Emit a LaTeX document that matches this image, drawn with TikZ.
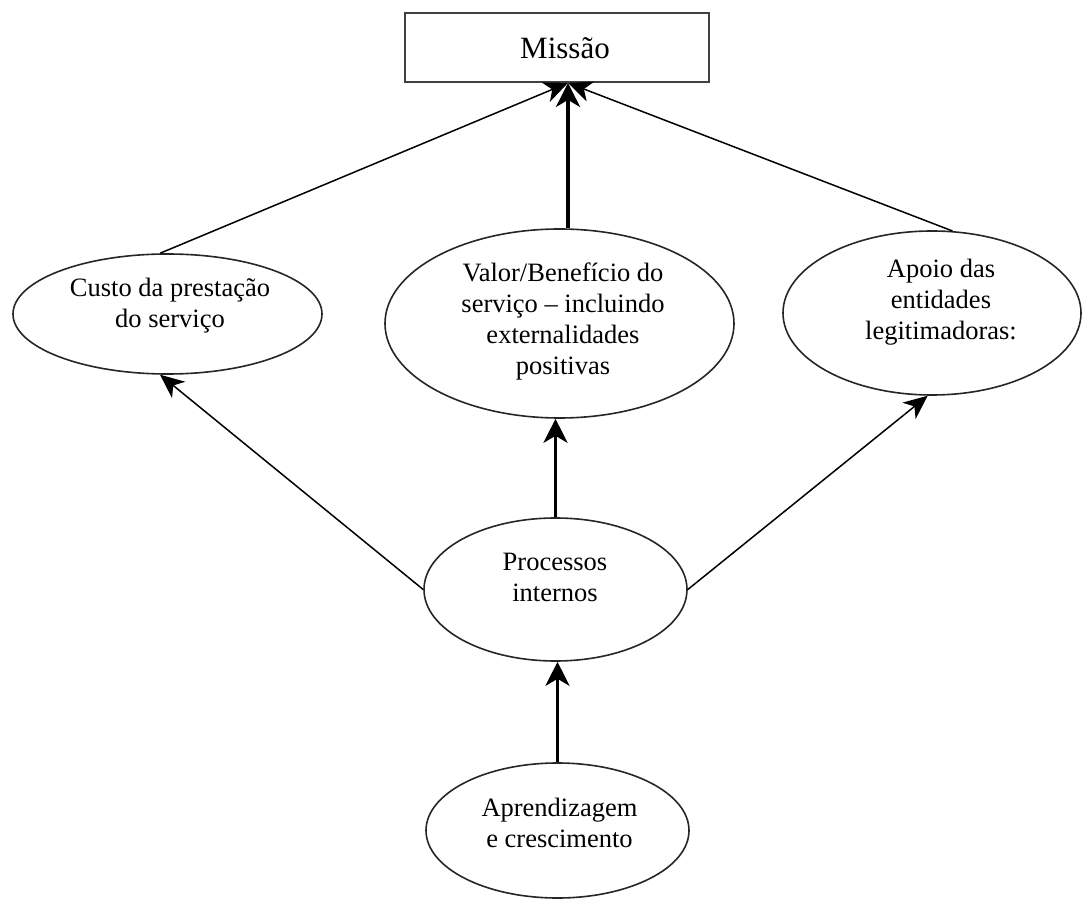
\documentclass[tikz,border=0pt]{standalone}
\usepackage{fontspec}
\setmainfont{Liberation Serif}
\usetikzlibrary{arrows.meta,shapes.geometric,calc}

\begin{document}
\begin{tikzpicture}[x=1pt,y=-1pt,
  oval/.style={ellipse,draw=black!85,line width=1.6pt,inner sep=0pt,fill=white},
  lbl/.style={align=center,inner sep=0pt,font=\fontsize{26.5}{31}\selectfont},
  linkthin/.style={line width=1.5pt,-{Stealth[length=24pt,width=21pt,inset=7pt]}},
  linkthick/.style={line width=3.5pt,-{Stealth[length=24pt,width=24pt,inset=7pt]}}
]
\useasboundingbox (0,0) rectangle (1082,901);

% mission box at the top
\node[draw=black!75,line width=1.8pt,minimum width=304pt,minimum height=69pt,inner sep=0pt]
  (mission) at (557,47.5) {};
\node[font=\fontsize{31}{36}\selectfont,inner sep=0pt] (missiontext) at (565,48) {Missão};
\coordinate (hub) at ($(mission.south)+(11,0)$);

% perspectives
\node[oval,minimum width=309pt,minimum height=120pt] (custo) at (167.5,314) {};
\node[lbl] (custotext) at (170,306) {Custo da prestação\\do serviço};

\node[oval,minimum width=349pt,minimum height=189pt] (valor) at (559.5,323.5) {};
\node[lbl] (valortext) at (563,321) {Valor/Benefício do\\serviço – incluindo\\externalidades\\positivas};

\node[oval,minimum width=298pt,minimum height=164pt] (apoio) at (932,313) {};
\node[lbl] (apoiotext) at (941,302.5) {Apoio das\\entidades\\legitimadoras:};

\node[oval,minimum width=263pt,minimum height=143pt] (proc) at (555.5,589.5) {};
\node[lbl] (proctext) at (555,577.5) {Processos\\internos};

\node[oval,minimum width=263pt,minimum height=135pt] (apr) at (557.5,830.5) {};
\node[lbl] (aprtext) at (559.5,822.5) {Aprendizagem\\e crescimento};

% links towards the mission
\draw[linkthin] (custo.97) -- (hub);
\draw[linkthick] (hub |- valor.north) -- (hub);
\draw[linkthin] (apoio.76) -- (hub);

% links from internal processes
\draw[linkthin] (proc.west) -- (custo.263);
\draw[linkthick] (proc.north) -- (proc.north |- valor.south);
\draw[linkthin] (proc.east) -- (apoio.267);

% learning and growth
\draw[linkthick] (apr.north) -- (apr.north |- proc.south);
\end{tikzpicture}
\end{document}
